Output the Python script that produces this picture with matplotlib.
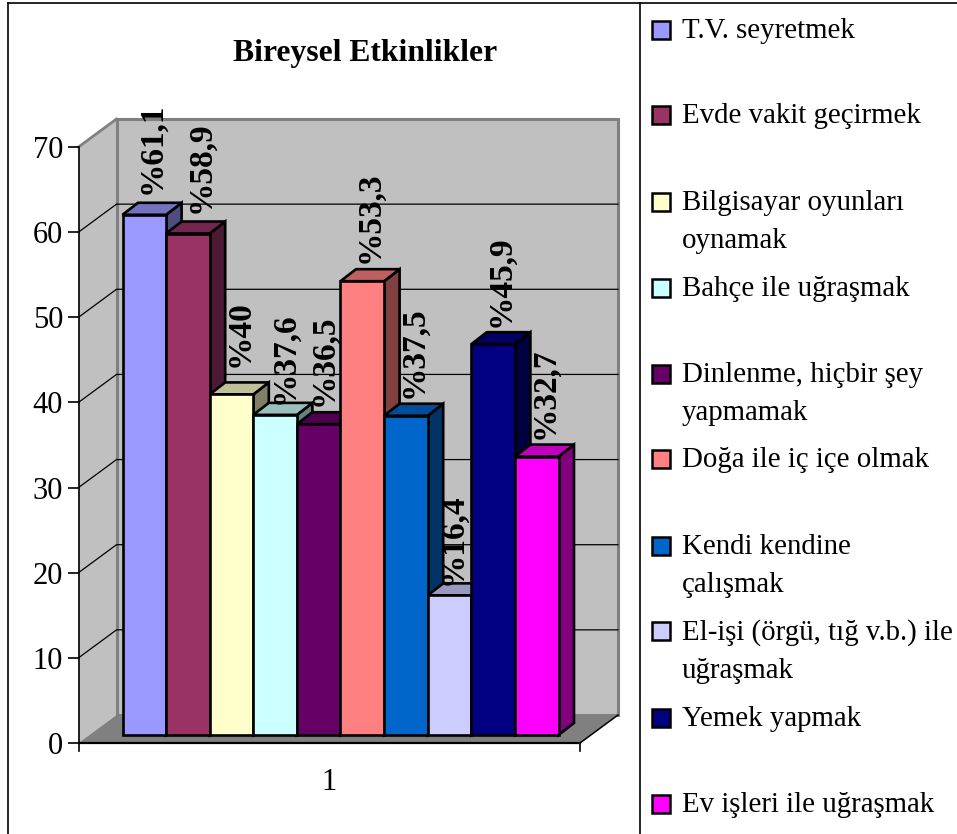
import matplotlib
matplotlib.use("Agg")
import matplotlib.pyplot as plt
from matplotlib.patches import Polygon, Rectangle
from matplotlib.lines import Line2D

plt.rcParams['font.family'] = ['Liberation Serif', 'DejaVu Serif']

names = ["T.V. seyretmek", "Evde vakit geçirmek", "Bilgisayar oyunları\noynamak",
         "Bahçe ile uğraşmak", "Dinlenme, hiçbir şey\nyapmamak", "Doğa ile iç içe olmak",
         "Kendi kendine\nçalışmak", "El-işi (örgü, tığ v.b.) ile\nuğraşmak", "Yemek yapmak",
         "Ev işleri ile uğraşmak"]
values = [61.1, 58.9, 40, 37.6, 36.5, 53.3, 37.5, 16.4, 45.9, 32.7]
colors = ["#9999FF", "#993366", "#FFFFCC", "#CCFFFF", "#660066",
          "#FF8080", "#0066CC", "#CCCCFF", "#000080", "#FF00FF"]
yticks = [0, 10, 20, 30, 40, 50, 60, 70]
category = "1"
title = "Bireysel Etkinlikler"
legend_y = [30, 115, 202, 288, 374, 459, 546, 631, 718, 804]
# label shifts in pixels, the original labels do not sit evenly over the bars
label_dx = [0, 5, 1, 2, -3, 0, 0, -4, 0, 0]
label_dy = [2, 2, 9, -8, -1, -1, -1, -8, -2, -1]

W, H = 957, 834
# one x unit = one bar, y units are the chart values
PX_X = 43.6
PX_Y = 596 / 70
WALL_DX = 38 / PX_X
WALL_DY = 28 / PX_Y
BAR_X0 = 44 / PX_X
BAR_Y0 = 8 / PX_Y
BAR_DX = 15.5 / PX_X
BAR_DY = 12 / PX_Y
XMAX = 501.5 / PX_X


def shade(col, k):
    rgb = matplotlib.colors.to_rgb(col)
    return tuple(c * k for c in rgb)


def face(ax, pts, col, z, ec="black", lw=1.9):
    ax.add_patch(Polygon(pts, closed=True, fc=col, ec=ec, lw=lw, zorder=z,
                         clip_on=False, joinstyle="miter"))


fig = plt.figure(figsize=(W / 100, H / 100), dpi=100)
fig.patch.set_facecolor("white")

# outer frame and legend divider
for xs, ys in [((8, 8), (3, 834)), ((8, 957), (3, 3)), ((640, 640), (3, 834))]:
    fig.add_artist(Line2D([x / W for x in xs], [1 - y / H for y in ys], color="black", lw=1.2))

ax = fig.add_axes([78.5 / W, 1 - 743 / H, 501.5 / W, 596 / H])
ax.set_xlim(0, XMAX)
ax.set_ylim(0, 70)
ax.patch.set_visible(False)
for s in ["top", "right"]:
    ax.spines[s].set_visible(False)
ax.spines["left"].set_linewidth(1.2)
ax.spines["bottom"].set_linewidth(1.6)
ax.spines["left"].set_zorder(1.5)

# walls and floor
face(ax, [(0, 0), (WALL_DX, WALL_DY), (WALL_DX, 70 + WALL_DY), (0, 70)], "#C0C0C0", 1, ec="none", lw=0)
face(ax, [(WALL_DX, WALL_DY), (XMAX + WALL_DX, WALL_DY), (XMAX + WALL_DX, 70 + WALL_DY),
          (WALL_DX, 70 + WALL_DY)], "#C0C0C0", 1, ec="#808080", lw=2.2)
face(ax, [(0, 0), (WALL_DX, WALL_DY), (XMAX + WALL_DX, WALL_DY), (XMAX, 0)], "#808080", 1.2, ec="none", lw=0)
ax.plot([0, WALL_DX], [70, 70 + WALL_DY], color="#808080", lw=2, zorder=1.3, clip_on=False)
ax.plot([XMAX, XMAX + WALL_DX], [0, WALL_DY], color="black", lw=1.1, zorder=1.3, clip_on=False)
for t in yticks[1:-1]:
    ax.plot([0, WALL_DX, XMAX + WALL_DX], [t, t + WALL_DY, t + WALL_DY], color="black", lw=0.9,
            zorder=1.1, clip_on=False)

# little ticks under the floor corners
ax.plot([0, 0], [0, -8 / PX_Y], color="black", lw=1.2, clip_on=False, zorder=1.5)
ax.plot([XMAX, XMAX], [0, -8 / PX_Y], color="black", lw=1.2, clip_on=False, zorder=1.5)

# bars, left to right so each one hides the previous side face
for i, (v, c) in enumerate(zip(values, colors)):
    x0 = BAR_X0 + i
    x1 = x0 + 1
    top = BAR_Y0 + v
    z = 2 + i * 0.1
    face(ax, [(x1, BAR_Y0), (x1 + BAR_DX, BAR_Y0 + BAR_DY), (x1 + BAR_DX, top + BAR_DY), (x1, top)],
         shade(c, 0.5), z)
    face(ax, [(x0, top), (x0 + BAR_DX, top + BAR_DY), (x1 + BAR_DX, top + BAR_DY), (x1, top)],
         shade(c, 0.75), z)
    face(ax, [(x0, BAR_Y0), (x1, BAR_Y0), (x1, top), (x0, top)], c, z)

for i, v in enumerate(values):
    label = "%" + f"{v:g}".replace(".", ",")
    ax.text(BAR_X0 + i + 0.5 + BAR_DX / 2 + label_dx[i] / PX_X,
            BAR_Y0 + v + BAR_DY + 0.8 + label_dy[i] / PX_Y, label, rotation=90,
            ha="center", va="bottom", fontsize=24, fontweight="bold", zorder=5, clip_on=False)

ax.set_yticks(yticks)
ax.tick_params(axis="y", length=8, width=1.2, labelsize=22, pad=3, direction="out")
ax.set_xticks([XMAX / 2])
ax.set_xticklabels([category], fontsize=22)
ax.tick_params(axis="x", length=0, pad=18)

fig.text(365 / W, 1 - 53 / H, title, ha="center", va="center", fontsize=22.8, fontweight="bold")

# legend
for name, c, y in zip(names, colors, legend_y):
    fig.add_artist(Rectangle((652 / W, 1 - (y + 9) / H), 18 / W, 18 / H, transform=fig.transFigure,
                             fc=c, ec="black", lw=1.8))
    fig.text(682 / W, 1 - (y - 12) / H, name, ha="left", va="top", fontsize=20.8, linespacing=1.6)

fig.savefig("out.png", dpi=100)
